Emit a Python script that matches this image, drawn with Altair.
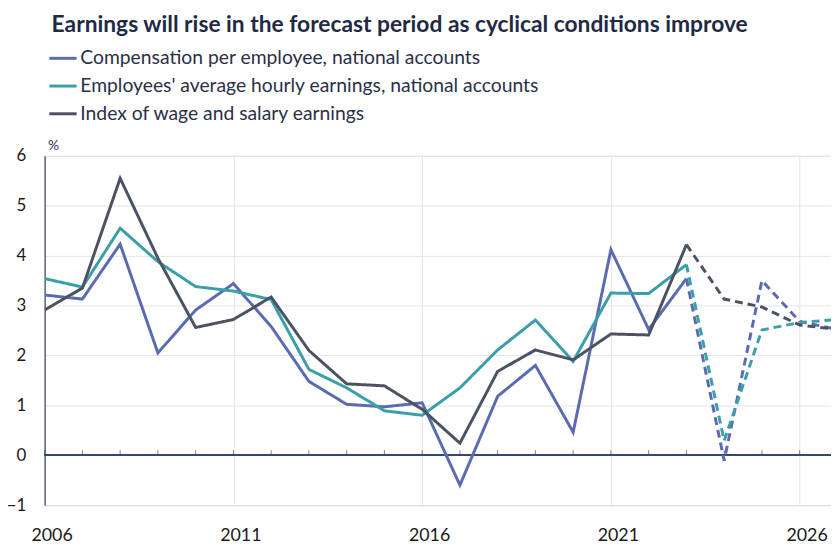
import altair as alt
import pandas as pd

years = list(range(2006, 2028))

comp = [3.21, 3.13, 4.23, 2.05, 2.91, 3.44, 2.58, 1.48, 1.02, 0.97, 1.05,
        -0.6, 1.18, 1.80, 0.46, 4.12, 2.52, 3.54, -0.11, 3.50, 2.68, 2.52]
hourly = [3.54, 3.37, 4.55, 3.88, 3.38, 3.29, 3.12, 1.72, 1.35, 0.89, 0.80,
          1.35, 2.11, 2.71, 1.88, 3.25, 3.24, 3.82, 0.29, 2.51, 2.66, 2.72]
index = [2.91, 3.35, 5.55, 3.95, 2.56, 2.72, 3.17, 2.10, 1.43, 1.39, 0.92,
         0.24, 1.68, 2.11, 1.91, 2.43, 2.41, 4.22, 3.13, 2.97, 2.61, 2.52]

series_names = [
    "Compensation per employee, national accounts",
    "Employees' average hourly earnings, national accounts",
    "Index of wage and salary earnings",
]
series_colors = ["#5c6bb1", "#3a9fa8", "#4b5363"]
last_actual = 2023

rows = []
for name, vals in zip(series_names, [comp, hourly, index]):
    for y, v in zip(years, vals):
        if y <= last_actual:
            rows.append({"year": y, "value": v, "series": name, "part": "actual"})
        if y >= last_actual:
            rows.append({"year": y, "value": v, "series": name, "part": "forecast"})
df = pd.DataFrame(rows)

zero_df = pd.DataFrame({"year": years[:-1], "value": [0] * (len(years) - 1)})

FONT = "Lato"
NAVY = "#3b4472"

x_scale = alt.Scale(domain=[2006, 2026.83], nice=False, zero=False)
y_scale = alt.Scale(domain=[-1, 6], nice=False)

lines = alt.Chart(df).mark_line(strokeWidth=3, clip=True).encode(
    x=alt.X("year:Q", scale=x_scale,
            axis=alt.Axis(values=[2006, 2011, 2016, 2021, 2026], format="d",
                          title=None, grid=True, gridColor="#e4e4ea",
                          ticks=False, domain=False, labelFontSize=18,
                          labelFont=FONT, labelColor="#1a1a1a",
                          labelPadding=22, labelFlush=False, labelOffset=7)),
    y=alt.Y("value:Q", scale=y_scale,
            axis=alt.Axis(values=list(range(-1, 7)), title="%", titleAngle=0,
                          titleAlign="left", titleBaseline="bottom",
                          titleX=3, titleY=-3, titleFontSize=14,
                          titleFontWeight="normal", titleFont=FONT,
                          titleColor="#2b3354", grid=True, gridColor="#e4e4ea",
                          ticks=False, domainColor=NAVY, domainWidth=1.2,
                          labelFontSize=17, labelFont=FONT,
                          labelColor="#1a1a1a", labelPadding=19)),
    color=alt.Color("series:N",
                    scale=alt.Scale(domain=series_names, range=series_colors),
                    legend=alt.Legend(title=None, orient="none", legendX=3,
                                      legendY=-114, symbolType="stroke",
                                      symbolSize=760, symbolStrokeWidth=3,
                                      labelFontSize=19.5, labelFont=FONT,
                                      labelColor="#2b3048", labelOffset=2,
                                      rowPadding=3, labelLimit=700)),
    strokeDash=alt.StrokeDash("part:N",
                              scale=alt.Scale(domain=["actual", "forecast"],
                                              range=[[1, 0], [8, 5]]),
                              legend=None),
    detail="part:N",
)

zero_rule = alt.Chart(zero_df).mark_rule(color=NAVY, strokeWidth=1.2).encode(
    y="value:Q"
)
zero_ticks = alt.Chart(zero_df).mark_tick(
    color=NAVY, thickness=1, size=5, orient="vertical", yOffset=-2.5
).encode(x=alt.X("year:Q", scale=x_scale), y=alt.Y("value:Q", scale=y_scale))

chart = alt.layer(zero_rule, zero_ticks, lines).properties(
    width=794, height=352.6,
    autosize=alt.AutoSizeParams(type="none"),
    padding={"left": 37, "top": 146.7, "right": 0, "bottom": 37.7},
    title=alt.TitleParams(
        "Earnings will rise in the forecast period as cyclical conditions improve",
        anchor="start", frame="group", font=FONT, fontSize=23,
        fontWeight="bold", color="#1f2a44", dx=7, dy=-2),
).configure_view(stroke=None).configure(font=FONT)

chart.save("out.html", embed_options={"renderer": "svg", "actions": False})
